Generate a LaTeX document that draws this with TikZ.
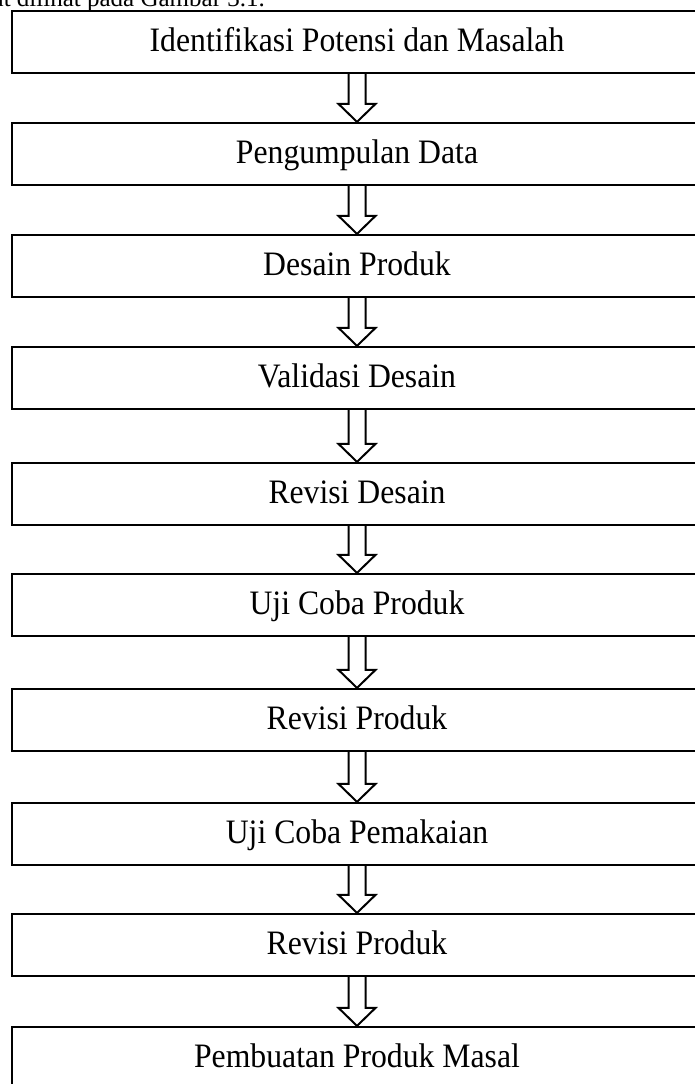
\documentclass[tikz,border=0pt]{standalone}
\usepackage{fontspec}
\setmainfont{Liberation Serif}
\usetikzlibrary{calc}
\tikzset{
  stepbox/.style={draw, line width=2.2pt, minimum width=690pt, minimum height=62pt,
    inner sep=0pt, text height=40pt, text depth=22pt, align=center,
    font=\fontsize{31.7}{38}\selectfont},
  blockarr/.style={draw, line width=2pt, line join=miter, fill=white},
}
\newcommand{\lbl}[1]{\scalebox{1}[1.08]{#1}}
\begin{document}
\begin{tikzpicture}[x=1pt,y=-1pt]
\clip (0,0) rectangle (695,1084);
\fill[white] (0,0) rectangle (695,1084);
\node[anchor=base east, inner sep=0pt, font=\fontsize{25}{30}\selectfont] (intro) at (265,6) {dapat dilihat pada Gambar 3.1.};
\node[stepbox] (b1) at (357,42) {\lbl{Identifikasi Potensi dan Masalah}};
\node[stepbox] (b2) at (357,154) {\lbl{Pengumpulan Data}};
\node[stepbox] (b3) at (357,266) {\lbl{Desain Produk}};
\node[stepbox] (b4) at (357,378) {\lbl{Validasi Desain}};
\node[stepbox] (b5) at (357,494) {\lbl{Revisi Desain}};
\node[stepbox] (b6) at (357,605) {\lbl{Uji Coba Produk}};
\node[stepbox] (b7) at (357,720) {\lbl{Revisi Produk}};
\node[stepbox] (b8) at (357,834) {\lbl{Uji Coba Pemakaian}};
\node[stepbox] (b9) at (357,945) {\lbl{Revisi Produk}};
\node[stepbox] (b10) at (357,1058) {\lbl{Pembuatan Produk Masal}};
\foreach \a/\b in {b1/b2,b2/b3,b3/b4,b4/b5,b5/b6,b6/b7,b7/b8,b8/b9,b9/b10}{
  \draw[blockarr] ($(\a.south)+(-8.5,0)$) -- ($(\b.north)+(-8.5,-18)$) -- ($(\b.north)+(-18.5,-18)$)
    -- (\b.north) -- ($(\b.north)+(18.5,-18)$) -- ($(\b.north)+(8.5,-18)$) -- ($(\a.south)+(8.5,0)$);
}
\end{tikzpicture}
\end{document}
